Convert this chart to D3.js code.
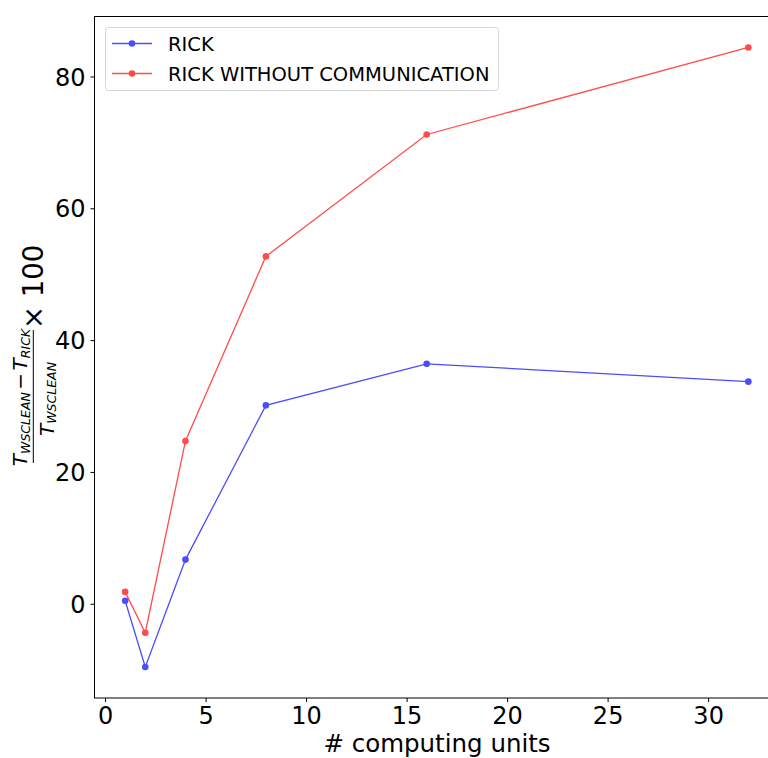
<!DOCTYPE html>
<html><head><meta charset="utf-8">
<script src="https://cdn.jsdelivr.net/npm/d3@7"></script>
<style>body{margin:0;background:#fff}svg{display:block;font-family:"DejaVu Sans",sans-serif}</style>
</head><body><svg id="c" width="768" height="758"></svg>
<script>
const units = [1, 2, 4, 8, 16, 32];
const rick = [0.46, -9.6, 6.7, 30.1, 36.4, 33.7];
const rickNoComm = [1.8, -4.4, 24.7, 52.7, 71.2, 84.4];
const seriesNames = ["RICK", "RICK WITHOUT COMMUNICATION"];
const seriesColors = ["#0000ff", "#ff0000"];
const xTicks = [0, 5, 10, 15, 20, 25, 30];
const yTicks = [0, 20, 40, 60, 80];

const svg = d3.select("#c");
const L = 94, R = 779.5, T = 16.5, B = 698;
const pad = (lo, hi) => [lo - 0.05 * (hi - lo), hi + 0.05 * (hi - lo)];
const x = d3.scaleLinear().domain(pad(d3.min(units), d3.max(units))).range([L, R]);
const allY = rick.concat(rickNoComm);
const y = d3.scaleLinear().domain(pad(d3.min(allY), d3.max(allY))).range([B, T]);

// frame
svg.append("rect").attr("x", L + 0.5).attr("y", T).attr("width", R - L).attr("height", B - T)
  .attr("fill", "none").attr("stroke", "#000").attr("stroke-width", 1);

const xa = svg.append("g").attr("transform", `translate(0,${B})`)
  .call(d3.axisBottom(x).tickValues(xTicks).tickSize(4).tickPadding(5));
const ya = svg.append("g").attr("transform", `translate(${L + 0.5},0)`)
  .call(d3.axisLeft(y).tickValues(yTicks).tickSize(4).tickPadding(5));
[xa, ya].forEach(a => {
  a.select(".domain").remove();
  a.selectAll("text").attr("font-size", 24).attr("fill", "#000").attr("font-family", "DejaVu Sans");
  a.selectAll("line").attr("stroke", "#000");
});
ya.selectAll("text").attr("dy", "0.36em");

const line = d3.line().x((d, i) => x(units[i])).y(d => y(d));
[rick, rickNoComm].forEach((s, k) => {
  const g = svg.append("g").attr("opacity", 0.7);
  g.append("path").datum(s).attr("d", line).attr("fill", "none")
    .attr("stroke", seriesColors[k]).attr("stroke-width", 1.3);
  g.selectAll("circle").data(s).join("circle")
    .attr("cx", (d, i) => x(units[i])).attr("cy", d => y(d)).attr("r", 3.3)
    .attr("fill", seriesColors[k]);
});

// x label
svg.append("text").attr("x", 437).attr("y", 752).attr("text-anchor", "middle")
  .attr("font-size", 24.5).text("# computing units");

// y label (fraction)
const yl = svg.append("g").attr("transform", "translate(33.3,463) rotate(-90)");
const num = yl.append("text").attr("x", 65.5).attr("y", -6.3).attr("text-anchor", "middle").attr("font-size", 20);
num.append("tspan").attr("font-style", "italic").text("T");
num.append("tspan").attr("font-style", "italic").attr("font-size", 12.5).attr("dy", 2.6).text("WSCLEAN");
num.append("tspan").attr("dy", -2.6).attr("dx", 2.5).text("\u2212");
num.append("tspan").attr("font-style", "italic").attr("dx", 2.5).text("T");
num.append("tspan").attr("font-style", "italic").attr("font-size", 12.5).attr("dy", 2.6).text("RICK");
yl.append("line").attr("x1", 0).attr("x2", 133).attr("y1", 0).attr("y2", 0).attr("stroke", "#000").attr("stroke-width", 1);
const den = yl.append("text").attr("x", 64).attr("y", 20.3).attr("text-anchor", "middle").attr("font-size", 20);
den.append("tspan").attr("font-style", "italic").text("T");
den.append("tspan").attr("font-style", "italic").attr("font-size", 12.5).attr("dy", 2).text("WSCLEAN");
yl.append("text").attr("x", 134).attr("y", 10).attr("font-size", 27.5).text("\u00d7 100");

// legend
const lg = svg.append("g");
lg.append("rect").attr("x", 105.5).attr("y", 27.5).attr("width", 393).attr("height", 63).attr("rx", 3)
  .attr("fill", "#fff").attr("fill-opacity", 0.8).attr("stroke", "#d5d5d5");
seriesNames.forEach((n, k) => {
  const yy = 43.5 + k * 30;
  const g = lg.append("g").attr("opacity", 0.7);
  g.append("line").attr("x1", 112).attr("x2", 152).attr("y1", yy).attr("y2", yy)
    .attr("stroke", seriesColors[k]).attr("stroke-width", 1.3);
  g.append("circle").attr("cx", 132).attr("cy", yy).attr("r", 3.3).attr("fill", seriesColors[k]);
  lg.append("text").attr("x", 168).attr("y", yy + 7).attr("font-size", 19.5).text(n);
});
</script></body></html>
